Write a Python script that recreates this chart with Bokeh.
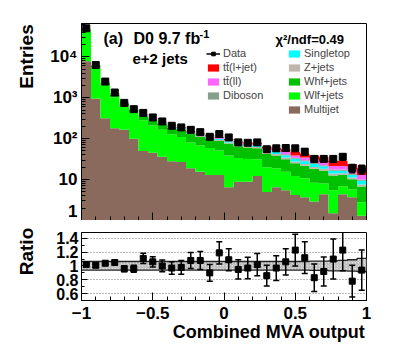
import numpy as np
from bokeh.plotting import figure
from bokeh.layouts import column, row
from bokeh.models import (Range1d, Legend, LegendItem, Label, Title, FixedTicker,
                          SingleIntervalTicker, LogTicker, CustomLabelingPolicy)
from bokeh.embed import file_html
from bokeh.resources import INLINE

FONT = "Liberation Sans"

# ---- binning: 30 bins on [-1, 1] ----
x_lo, x_hi, n_bins = -1.0, 1.0, 30
edges = np.linspace(x_lo, x_hi, n_bins + 1)
centers = 0.5 * (edges[:-1] + edges[1:])

# ---- data (events per bin) ----
data = [49600, 6300, 2480, 1340, 747, 525, 425, 329, 263, 206,
        188, 164, 144, 111, 129, 107, 81, 79, 81, 55,
        58, 59, 58, 48, 32, 32, 32, 36, 19, 18]

# ---- background predictions (stacked bottom -> top) ----
multijet = [7800, 950, 315, 180, 165, 100, 50, 45, 36, 28,
            27, 19, 15.5, 13, 13, 6.5, 8.8, 8.8, 12.2, 5.0,
            6.5, 5.5, 4.2, 3.7, 2.9, 4.4, 1.5, 4.4, 3.7, 1.3]
wlf = [36500, 4500, 1700, 850, 450, 330, 230, 165, 130, 100,
       82, 62, 52, 46, 38, 32, 25, 23, 19, 15,
       12.5, 10, 8, 7, 5.5, 3.6, 4, 2.5, 2, 1.5]
whf = [3000, 500, 250, 170, 120, 80, 70, 70, 68, 58,
       58, 48, 44, 42, 36, 38, 31, 29, 27, 23,
       19.5, 16, 13, 11, 10, 8.5, 7, 6, 4.5, 4]
zjets = [800, 150, 60, 35, 20, 15, 12, 10, 9, 8,
         7, 6, 5.5, 5, 5, 4.5, 4, 4, 4, 3.5,
         3.5, 3, 2.5, 2.3, 2, 1.8, 1.5, 1.3, 1, 0.8]
singletop = [100, 40, 20, 15, 10, 10, 9, 9, 9, 8,
             8, 7, 6, 6, 5.5, 5.5, 5, 5, 5, 5,
             5, 5, 4.5, 4, 3.5, 3, 2.5, 2.3, 2, 1.8]
diboson = [300, 60, 25, 15, 8, 6, 5, 4, 4, 3,
           3, 3, 3, 3, 2.5, 2.5, 2.2, 2.2, 2, 2,
           2, 2, 1.8, 1.5, 1.6, 1.2, 1, 1, 0.8, 0.6]
ttll = [30, 15, 5, 4, 2, 3, 3, 3, 3, 3,
        3, 3, 3, 3.5, 3.5, 4, 4, 4, 4, 4.5,
        4.5, 5.5, 5, 5, 5, 4.5, 4, 4, 3.5, 3]
ttlj = [70, 25, 10, 7, 3, 3, 4, 4, 4, 4,
        4, 4, 4, 4.5, 4.5, 5, 5, 5, 5.8, 6,
        5.5, 8, 8, 8, 8, 8, 7.5, 7.5, 6.5, 6]

# ---- ratio panel ----
ratio = [1.02, 1.01, 1.04, 1.05, 0.96, 0.96, 1.11, 1.06, 1.00, 0.97,
         0.98, 1.08, 1.08, 0.90, 1.19, 1.09, 0.95, 0.97, 1.02, 0.86,
         0.97, 1.06, 1.23, 1.12, 0.83, 0.92, 1.10, 1.23, 0.78, 0.94]
ratio_err = [0.01, 0.02, 0.02, 0.03, 0.045, 0.05, 0.075, 0.075, 0.085, 0.09,
             0.10, 0.115, 0.13, 0.12, 0.16, 0.16, 0.14, 0.155, 0.16, 0.15,
             0.18, 0.19, 0.23, 0.23, 0.20, 0.21, 0.29, 0.30, 0.23, 0.29]
band_hi = [1.065, 1.065, 1.065, 1.065, 1.065, 1.065, 1.065, 1.065, 1.065, 1.065,
           1.065, 1.065, 1.065, 1.065, 1.065, 1.065, 1.065, 1.065, 1.065, 1.065,
           1.065, 1.065, 1.065, 1.065, 1.07, 1.07, 1.075, 1.08, 1.09, 1.11]
band_lo = [0.94, 0.94, 0.94, 0.94, 0.94, 0.94, 0.94, 0.94, 0.94, 0.94,
           0.94, 0.94, 0.94, 0.94, 0.94, 0.94, 0.94, 0.94, 0.94, 0.94,
           0.94, 0.94, 0.94, 0.94, 0.935, 0.935, 0.93, 0.93, 0.925, 0.92]

y_ticks_main = [1, 10, 100, 1000, 10000]
y_tick_labels_main = ["1", "10", "10\u00b2", "10\u00b3", "10\u2074"]
x_ticks = [-1, -0.5, 0, 0.5, 1]
x_tick_labels = ["\u22121", "\u22120.5", "0", "0.5", "1"]
r_ticks = [0.6, 0.8, 1.0, 1.2, 1.4]
r_tick_labels = ["0.6", "0.8", "1", "1.2", "1.4"]

COLORS = {
    "Multijet": "#8a6a5c",
    "Wlf+jets": "#00ff00",
    "Whf+jets": "#00c000",
    "Z+jets": "#c0b5aa",
    "Singletop": "#00ffff",
    "Diboson": "#84a08c",
    "tt\u0304(ll)": "#ff66ff",
    "tt\u0304(l+jet)": "#ff0000",
}
stack = [("Multijet", multijet), ("Wlf+jets", wlf), ("Whf+jets", whf),
         ("Z+jets", zjets), ("Singletop", singletop), ("Diboson", diboson),
         ("tt\u0304(ll)", ttll), ("tt\u0304(l+jet)", ttlj)]

TOTAL_H = 344
STRIP_W = 40


def style_axis(ax, size="17px"):
    ax.major_label_text_font = FONT
    ax.major_label_text_font_style = "bold"
    ax.major_label_text_font_size = size
    ax.major_label_text_color = "black"
    ax.axis_line_color = "black"
    ax.major_tick_line_color = "black"
    ax.minor_tick_line_color = "black"
    ax.major_tick_out = 0
    ax.minor_tick_out = 0


lab_kw = dict(x_units="screen", y_units="screen", text_font=FONT, text_font_style="bold",
              text_baseline="middle", text_color="black")

# ================= strip holding the vertical axis titles =================
strip = figure(width=STRIP_W, height=TOTAL_H, x_range=Range1d(0, 1), y_range=Range1d(0, 1),
               output_backend="svg", toolbar_location=None, x_axis_location=None,
               y_axis_location=None, min_border=0)
strip.outline_line_color = None
strip.grid.grid_line_color = None
strip.add_layout(Label(x=26, y=TOTAL_H - 56, text="Entries", angle=np.pi / 2, text_align="center",
                       text_font_size="19px", **lab_kw))
strip.add_layout(Label(x=26, y=TOTAL_H - 251, text="Ratio", angle=np.pi / 2, text_align="center",
                       text_font_size="19px", **lab_kw))

# ================= main panel =================
p = figure(width=400 - STRIP_W, height=220, x_range=Range1d(x_lo, x_hi), y_range=Range1d(1, 6.5e4),
           y_axis_type="log", output_backend="svg", toolbar_location=None,
           min_border_left=81 - STRIP_W, min_border_right=34, min_border_top=23, min_border_bottom=0)
p.grid.grid_line_color = None
p.outline_line_color = "black"

rend = {}
cum = np.zeros(n_bins)
bottom = np.full(n_bins, 0.3)
for name, vals in stack:
    top = cum + np.asarray(vals, dtype=float)
    r_ = p.varea_step(x=edges, y1=np.append(bottom, bottom[-1]), y2=np.append(top, top[-1]),
                      step_mode="after", fill_color=COLORS[name])
    rend[name] = r_
    cum = top
    bottom = top

d = np.asarray(data, dtype=float)
err = np.sqrt(d)
seg_r = p.segment(x0=centers, y0=d - err, x1=centers, y1=d + err, line_color="black", line_width=1.5)
p.scatter(x=centers, y=d + err, marker="dash", size=6, line_color="black", line_width=1.5)
p.scatter(x=centers, y=d - err, marker="dash", size=6, line_color="black", line_width=1.5)
sq_r = p.scatter(x=centers, y=d, marker="square", size=7, fill_color="black", line_color="black")

style_axis(p.xaxis[0])
p.xaxis.ticker = SingleIntervalTicker(interval=0.5, num_minor_ticks=5)
p.xaxis.major_label_text_font_size = "0px"
p.xaxis.major_label_standoff = 0
p.xaxis.major_label_policy = CustomLabelingPolicy(
    code="for (let i = 0; i < indices.size; i++) { indices.unset(i) }\nreturn indices")
p.xaxis.major_tick_in = 8
p.xaxis.minor_tick_in = 4

style_axis(p.yaxis[0])
p.yaxis.ticker = LogTicker(num_minor_ticks=10)
p.yaxis.major_label_overrides = dict(zip(y_ticks_main, y_tick_labels_main))
p.yaxis.major_tick_in = 8
p.yaxis.minor_tick_in = 4
p.yaxis.major_label_standoff = 4

p.add_layout(Label(x=22, y=182, text="(a)", text_font_size="16px", **lab_kw))
p.add_layout(Label(x=52, y=182, text="D0 9.7 fb", text_font_size="16px", **lab_kw))
p.add_layout(Label(x=118, y=187, text="-1", text_font_size="11px", **lab_kw))
p.add_layout(Label(x=51, y=162, text="e+2 jets", text_font_size="15px", **lab_kw))
p.add_layout(Label(x=194, y=181, text="\u03c7\u00b2/ndf=0.49", text_font_size="13px", **lab_kw))

leg_kw = dict(label_text_font=FONT, label_text_font_size="11px", glyph_width=14, glyph_height=9,
              label_height=14, label_standoff=3, spacing=0, padding=0, margin=0,
              border_line_color=None, background_fill_alpha=0)
leg1 = Legend(items=[LegendItem(label="Data", renderers=[seg_r, sq_r]),
                     LegendItem(label="tt\u0304(l+jet)", renderers=[rend["tt\u0304(l+jet)"]]),
                     LegendItem(label="tt\u0304(ll)", renderers=[rend["tt\u0304(ll)"]]),
                     LegendItem(label="Diboson", renderers=[rend["Diboson"]])],
              location=(125, 118), **leg_kw)
leg2 = Legend(items=[LegendItem(label=n, renderers=[rend[n]]) for n in
                     ["Singletop", "Z+jets", "Whf+jets", "Wlf+jets", "Multijet"]],
              location=(206, 104), **leg_kw)
p.add_layout(leg1, "center")
p.add_layout(leg2, "center")

# ================= ratio panel =================
r = figure(width=400 - STRIP_W, height=TOTAL_H - 220, x_range=p.x_range, y_range=Range1d(0.5, 1.485),
           output_backend="svg", toolbar_location=None,
           min_border_left=81 - STRIP_W, min_border_right=34, min_border_top=12, min_border_bottom=44)
r.outline_line_color = "black"
r.xgrid.grid_line_color = None
r.ygrid.ticker = FixedTicker(ticks=r_ticks)
r.ygrid.grid_line_color = "#777777"
r.ygrid.grid_line_dash = "1 2"
r.ygrid.grid_line_width = 1

hi_ext = np.append(band_hi, band_hi[-1])
lo_ext = np.append(band_lo, band_lo[-1])
r.varea_step(x=edges, y1=lo_ext, y2=hi_ext, step_mode="after", fill_color="#e0e0e0",
             hatch_pattern="right_diagonal_line", hatch_color="#909090", hatch_scale=3,
             hatch_weight=0.6)
r.step(x=edges, y=hi_ext, mode="after", line_color="#222222", line_width=1.3)
r.step(x=edges, y=lo_ext, mode="after", line_color="#222222", line_width=1.3)

rv = np.asarray(ratio)
re = np.asarray(ratio_err)
r.segment(x0=centers, y0=rv - re, x1=centers, y1=rv + re, line_color="black", line_width=1.5)
r.scatter(x=centers, y=rv + re, marker="dash", size=6, line_color="black", line_width=1.5)
r.scatter(x=centers, y=rv - re, marker="dash", size=6, line_color="black", line_width=1.5)
r.scatter(x=centers, y=rv, marker="square", size=6, fill_color="black", line_color="black")

style_axis(r.xaxis[0])
r.xaxis.ticker = SingleIntervalTicker(interval=0.5, num_minor_ticks=5)
r.xaxis.major_label_overrides = dict(zip(x_ticks, x_tick_labels))
r.xaxis.major_tick_in = 8
r.xaxis.minor_tick_in = 4
r.xaxis.major_label_standoff = 6

style_axis(r.yaxis[0], size="16px")
r.yaxis.ticker = FixedTicker(ticks=r_ticks, minor_ticks=[0.5, 0.6, 0.7, 0.8, 0.9, 1.0, 1.1, 1.2, 1.3, 1.4])
r.yaxis.major_label_overrides = dict(zip(r_ticks, r_tick_labels))
r.yaxis.major_tick_in = 6
r.yaxis.minor_tick_in = 3
r.yaxis.major_label_standoff = 3

r.add_layout(Title(text="Combined MVA output", align="right", vertical_align="top",
                   standoff=0, offset=1, text_font=FONT, text_font_style="bold",
                   text_font_size="18px", text_color="black"), "below")

layout = row(strip, column(p, r, spacing=0), spacing=0)
open("out.html", "w").write(file_html(layout, INLINE))
